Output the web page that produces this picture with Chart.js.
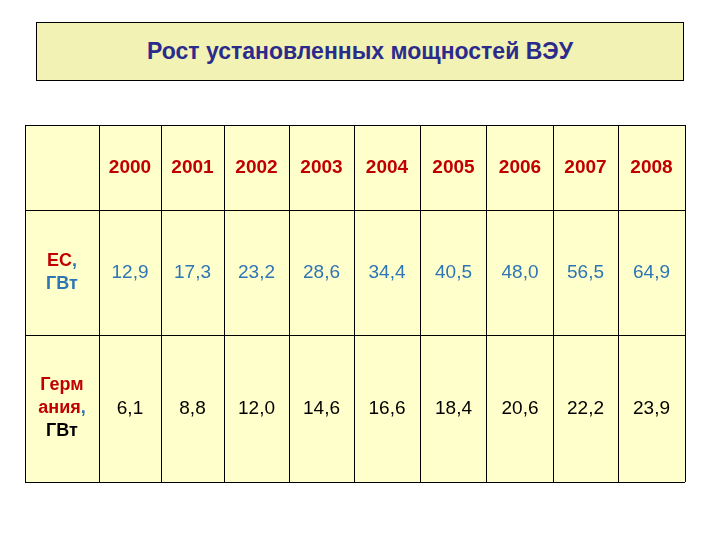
<!DOCTYPE html>
<html><head><meta charset="utf-8">
<script src="https://cdn.jsdelivr.net/npm/chart.js@4"></script>
<style>
html,body{margin:0;padding:0;background:#fff;}
#wrap{position:relative;width:720px;height:540px;}
#title{position:absolute;left:36px;top:22px;width:646px;height:57px;background:#F2F2B4;border:1px solid #000;
font:bold 23px "Liberation Sans",Arial,sans-serif;color:#2B2B8C;text-align:center;line-height:57px;}
canvas{position:absolute;left:0;top:0;}
</style></head><body>
<div id="wrap"><div id="title">Рост установленных мощностей ВЭУ</div><canvas id="c" width="720" height="540"></canvas></div>
<script>
const years = ['2000','2001','2002','2003','2004','2005','2006','2007','2008'];
const euValues = ['12,9','17,3','23,2','28,6','34,4','40,5','48,0','56,5','64,9'];
const deValues = ['6,1','8,8','12,0','14,6','16,6','18,4','20,6','22,2','23,9'];
const rowLabels = [
  [[['ЕС','#C00000'],[',','#2E75B6']],[['ГВт','#2E75B6']]],
  [[['Герм','#C00000']],[['ания','#C00000'],[',','#2E75B6']],[['ГВт','#000']]]
];
const colEdges = [0,74,136,199,264,329,395,462,528,593,660];
const rowEdges = [0,85,210,357];

const tablePlugin = {
  id:'table',
  beforeDraw(ch){
    const a=ch.chartArea, c=ch.ctx;
    c.save(); c.fillStyle='#FFFFCC'; c.fillRect(a.left,a.top,a.right-a.left,a.bottom-a.top); c.restore();
  },
  afterDraw(ch){
    const c=ch.ctx, x=ch.scales.x, y=ch.scales.y;
    const cx=i=>x.getPixelForValue((colEdges[i]+colEdges[i+1])/2);
    const cy=j=>y.getPixelForValue((rowEdges[j]+rowEdges[j+1])/2);
    c.save(); c.textAlign='center'; c.textBaseline='middle';
    c.font='bold 19px "Liberation Sans",Arial,sans-serif'; c.fillStyle='#C00000';
    years.forEach((t,i)=>c.fillText(t,cx(i+1),cy(0)));
    c.font='19px "Liberation Sans",Arial,sans-serif';
    c.fillStyle='#2E75B6'; euValues.forEach((t,i)=>c.fillText(t,cx(i+1),cy(1)));
    c.fillStyle='#000'; deValues.forEach((t,i)=>c.fillText(t,cx(i+1),cy(2)));
    c.font='bold 18px "Liberation Sans",Arial,sans-serif'; c.textAlign='left';
    rowLabels.forEach((lines,r)=>{
      const n=lines.length, lh=23, y0=cy(r+1)-(n-1)*lh/2;
      lines.forEach((segs,k)=>{
        const w=segs.reduce((s,g)=>s+c.measureText(g[0]).width,0);
        let px=cx(0)-w/2;
        segs.forEach(g=>{c.fillStyle=g[1];c.fillText(g[0],px,y0+k*lh);px+=c.measureText(g[0]).width;});
      });
    });
    c.restore();
  }
};
new Chart(document.getElementById('c'),{
  type:'scatter',
  data:{datasets:[{data:[]}]},
  options:{
    responsive:false,animation:false,
    layout:{padding:{left:25,right:35,top:125,bottom:58}},
    plugins:{legend:{display:false},tooltip:{enabled:false}},
    scales:{
      x:{type:'linear',min:0,max:660,border:{display:false},
        afterBuildTicks:s=>{s.ticks=colEdges.map(v=>({value:v}));},
        ticks:{display:false},grid:{color:'#000',lineWidth:1,drawTicks:false}},
      y:{type:'linear',min:0,max:357,reverse:true,border:{display:false},
        afterBuildTicks:s=>{s.ticks=rowEdges.map(v=>({value:v}));},
        ticks:{display:false},grid:{color:'#000',lineWidth:1,drawTicks:false}}
    }
  },
  plugins:[tablePlugin]
});
</script></body></html>
